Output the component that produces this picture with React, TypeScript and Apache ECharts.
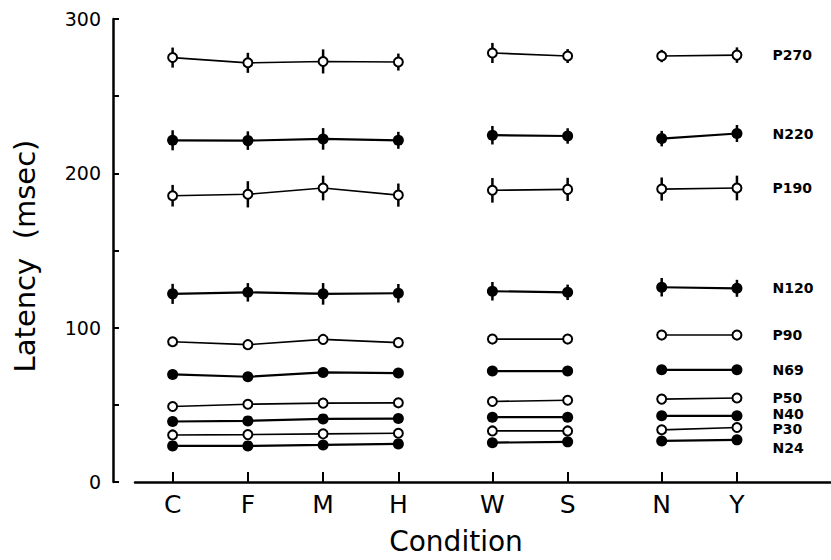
import React, { useEffect, useRef } from "react";
import * as echarts from "echarts";

// ---- data ----
const conditions = ["C", "F", "M", "H", "W", "S", "N", "Y"];
const groupSizes = [4, 2, 2];

const componentNames = ["P270", "N220", "P190", "N120", "P90", "N69", "P50", "N40", "P30", "N24"];

const P270 = [275.0, 271.6, 272.5, 272.1, 278.0, 276.0, 276.0, 276.6];
const N220 = [221.4, 221.2, 222.3, 221.4, 224.7, 224.2, 222.5, 225.8];
const P190 = [185.5, 186.4, 190.5, 185.9, 189.0, 189.6, 189.8, 190.5];
const N120 = [121.9, 122.9, 121.9, 122.3, 123.6, 122.9, 126.2, 125.5];
const P90 = [90.9, 89.0, 92.4, 90.3, 92.6, 92.6, 95.2, 95.2];
const N69 = [69.7, 68.2, 71.0, 70.6, 71.9, 71.9, 72.7, 72.7];
const P50 = [48.9, 50.4, 51.1, 51.3, 52.2, 53.0, 53.7, 54.4];
const N40 = [39.2, 39.6, 40.9, 41.1, 42.0, 42.0, 42.9, 42.9];
const P30 = [30.5, 30.7, 31.2, 31.6, 33.1, 33.1, 33.8, 35.3];
const N24 = [23.4, 23.4, 24.0, 24.7, 25.5, 26.0, 26.6, 27.3];

// standard-error half-lengths (only visible for the four late components)
const errP270 = [6.5, 6.5, 7.8, 5.5, 6.5, 4.5, 4.0, 5.0];
const errN220 = [6.5, 6.0, 7.0, 5.5, 6.0, 5.0, 5.0, 5.5];
const errP190 = [7.0, 8.5, 8.0, 7.5, 8.0, 7.5, 7.5, 8.0];
const errN120 = [6.5, 6.0, 7.0, 6.0, 6.0, 5.0, 6.0, 5.5];

const yTicks = [0, 100, 200, 300];

// ---- layout helpers (not data) ----
const LEAD = 2;
const STEP = 4;
const GROUP_GAP = 5;
const TOTAL_SLOTS = 38;
const FONT = "DejaVu Sans";

function computeSlots(): number[] {
  const slots: number[] = [];
  let s = LEAD;
  groupSizes.forEach((n, gi) => {
    if (gi > 0) s += GROUP_GAP - STEP;
    for (let i = 0; i < n; i++) {
      slots.push(s);
      s += STEP;
    }
  });
  return slots;
}

export default function App() {
  const ref = useRef<HTMLDivElement>(null);

  useEffect(() => {
    if (!ref.current) return;
    const chart = echarts.init(ref.current, null, { renderer: "svg" });

    const slots = computeSlots();
    const slotSet = new Set(slots);
    const categories = Array.from({ length: TOTAL_SLOTS }, (_, i) => {
      const k = slots.indexOf(i);
      return k >= 0 ? conditions[k] : `_${i}`;
    });

    const valuesByName: Record<string, number[]> = {
      P270, N220, P190, N120, P90, N69, P50, N40, P30, N24,
    };
    const errByName: Record<string, number[]> = {
      P270: errP270, N220: errN220, P190: errP190, N120: errN120,
    };
    const labelNudge: Record<string, [number, number]> = {
      N24: [0, 8],
      N40: [0, -2],
      P30: [0, 1],
    };

    const series: any[] = [];

    // error bars
    const errData: number[][] = [];
    Object.keys(errByName).forEach((name) => {
      const vals = valuesByName[name];
      const errs = errByName[name];
      vals.forEach((v, i) => {
        errData.push([slots[i], v - errs[i], v + errs[i]]);
      });
    });
    series.push({
      type: "custom",
      z: 1,
      silent: true,
      data: errData,
      encode: { x: 0, y: [1, 2] },
      renderItem: (params: any, api: any) => {
        const x = api.value(0);
        const lo = api.coord([x, api.value(1)]);
        const hi = api.coord([x, api.value(2)]);
        return {
          type: "line",
          shape: { x1: lo[0], y1: lo[1], x2: hi[0], y2: hi[1] },
          style: { stroke: "#000", lineWidth: 2.5 },
        };
      },
    });

    componentNames.forEach((name) => {
      const vals = valuesByName[name];
      const filled = name.startsWith("N");
      let start = 0;
      groupSizes.forEach((n, gi) => {
        const data: any[] = [];
        for (let i = start; i < start + n; i++) {
          const isLast = gi === groupSizes.length - 1 && i === start + n - 1;
          if (isLast) {
            data.push({
              value: [slots[i], vals[i]],
              label: {
                show: true,
                position: "right",
                distance: 30,
                formatter: name,
                fontSize: 14,
                lineHeight: 14,
                fontWeight: "bold",
                fontFamily: FONT,
                color: "#000",
                offset: labelNudge[name] || [0, 0],
              },
            });
          } else {
            data.push([slots[i], vals[i]]);
          }
        }
        start += n;
        series.push({
          type: "line",
          name,
          z: 3,
          silent: true,
          data,
          symbol: "circle",
          symbolSize: filled ? 11 : 9,
          showSymbol: true,
          lineStyle: { color: "#000", width: filled ? 2.2 : 1.6 },
          itemStyle: filled
            ? { color: "#000", borderColor: "#000", borderWidth: 0 }
            : { color: "#fff", borderColor: "#000", borderWidth: 2 },
        });
      });
    });

    const option: any = {
      animation: false,
      backgroundColor: "#fff",
      grid: { left: 135, right: -7, top: 19, bottom: 78, containLabel: false },
      xAxis: {
        type: "category",
        data: categories,
        boundaryGap: false,
        axisLine: { show: true, lineStyle: { color: "#000", width: 2.5 } },
        axisTick: {
          show: true,
          inside: true,
          length: 10,
          lineStyle: { color: "#000", width: 2 },
          interval: (idx: number) => slotSet.has(idx),
        },
        axisLabel: {
          show: true,
          interval: (idx: number) => slotSet.has(idx),
          fontSize: 25,
          fontFamily: FONT,
          color: "#000",
          margin: 10,
        },
        splitLine: { show: false },
      },
      yAxis: {
        type: "value",
        min: yTicks[0],
        max: yTicks[yTicks.length - 1],
        interval: 50,
        offset: 22,
        axisLine: { show: true, lineStyle: { color: "#000", width: 2.5 } },
        axisTick: { show: true, inside: true, length: 6, lineStyle: { color: "#000", width: 2 } },
        axisLabel: {
          fontSize: 19,
          fontFamily: FONT,
          color: "#000",
          margin: 12,
          formatter: (v: number) => (yTicks.includes(v) ? String(v) : ""),
        },
        splitLine: { show: false },
      },
      graphic: [
        {
          type: "text",
          x: 25,
          y: 256,
          rotation: Math.PI / 2,
          style: {
            text: "Latency  (msec)",
            fontSize: 29,
            fontFamily: FONT,
            fill: "#000",
            align: "center",
            verticalAlign: "middle",
          },
        },
        {
          type: "text",
          x: 456,
          y: 541,
          style: {
            text: "Condition",
            fontSize: 28,
            fontFamily: FONT,
            fill: "#000",
            align: "center",
            verticalAlign: "middle",
          },
        },
      ],
      series,
    };

    chart.setOption(option);
    return () => chart.dispose();
  }, []);

  return (
    <div
      ref={ref}
      style={{ position: "fixed", left: 0, top: 0, width: 831, height: 560, background: "#fff" }}
    />
  );
}
